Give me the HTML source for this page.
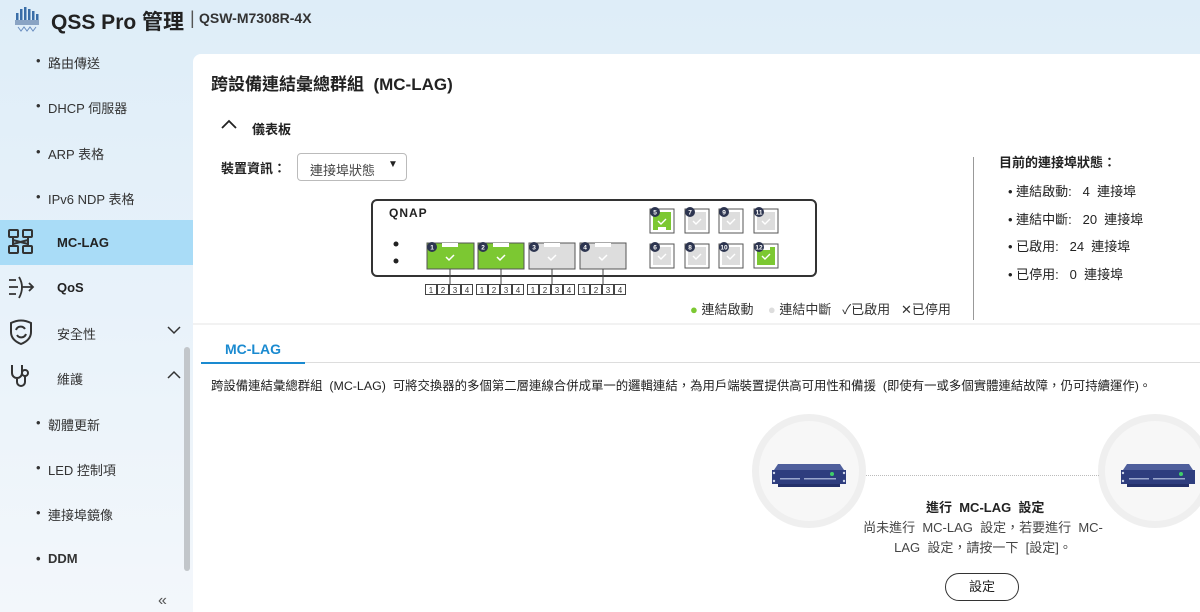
<!DOCTYPE html>
<html><head><meta charset="utf-8">
<style>
*{margin:0;padding:0;box-sizing:border-box}
html,body{width:1200px;height:612px;overflow:hidden}
body{position:relative;font-family:"Liberation Sans","Noto Sans CJK TC",sans-serif;color:#222;background:linear-gradient(#deedf8 0,#e8f2fa 300px,#f3f7fb 612px)}
.a{position:absolute;white-space:nowrap}
.nav{font-size:13px;color:#333}
.dot::before{content:"•";position:absolute;left:-12px}
.panel{position:absolute;left:193px;top:54px;width:1007px;height:558px;background:#fff;border-radius:8px 0 0 0}
.b{font-weight:bold}
</style></head><body>
<svg class="a" style="left:14px;top:6px" width="26" height="28" viewBox="0 0 26 28">
<g fill="#3a6ea8"><rect x="2" y="7" width="2.5" height="9"/><rect x="6" y="3" width="2.5" height="13"/><rect x="10" y="1" width="2.5" height="15"/><rect x="14" y="3" width="2.5" height="13"/><rect x="18" y="5" width="2.5" height="11"/><rect x="22" y="8" width="2.5" height="8"/></g>
<rect x="1" y="14" width="24" height="5" fill="#8aa4c4"/>
<path d="M4 21l3 4 3-4 3 4 3-4 3 4 3-4" stroke="#6b8fc0" fill="none" stroke-width="1"/>
</svg>
<div class="a b" style="left:51px;top:6px;font-size:21px;color:#222">QSS Pro 管理</div>
<div class="a" style="left:190px;top:8px;font-size:18px;color:#555">|</div>
<div class="a b" style="left:199px;top:10px;font-size:14px;color:#333">QSW-M7308R-4X</div>

<div class="a nav dot" style="left:48px;top:53px">路由傳送</div>
<div class="a nav dot" style="left:48px;top:98px">DHCP 伺服器</div>
<div class="a nav dot" style="left:48px;top:144px">ARP 表格</div>
<div class="a nav dot" style="left:48px;top:189px">IPv6 NDP 表格</div>
<div class="a" style="left:0;top:220px;width:193px;height:45px;background:#a9dcf7"></div>
<svg class="a" style="left:7px;top:228px" width="28" height="28" viewBox="0 0 28 28" fill="none" stroke="#333" stroke-width="2"><rect x="2" y="2" width="9" height="7" rx="1"/><rect x="16" y="2" width="9" height="7" rx="1"/><rect x="2" y="18" width="9" height="7" rx="1"/><rect x="16" y="18" width="9" height="7" rx="1"/><path d="M6 9v9M21 9v9M6 12l15 4M21 12l-15 4"/></svg>
<div class="a b" style="left:57px;top:235px;font-size:13px">MC-LAG</div>
<svg class="a" style="left:7px;top:274px" width="28" height="28" viewBox="0 0 28 28" fill="none" stroke="#333" stroke-width="1.8"><path d="M2 6h7M2 13h9M2 20h7M12 3q6 10 0 21M14 13h12M22 9l4 4-4 4"/></svg>
<div class="a b" style="left:57px;top:280px;font-size:13px">QoS</div>
<svg class="a" style="left:7px;top:318px" width="28" height="28" viewBox="0 0 28 28" fill="none" stroke="#333" stroke-width="2"><path d="M4 5q10-5 20 0v9q0 8-10 12Q4 22 4 14z"/><path d="M9 12a5 5 0 0 1 9-1M19 16a5 5 0 0 1-9 1"/></svg>
<div class="a nav" style="left:57px;top:324px">安全性</div>
<svg class="a" style="left:166px;top:324px" width="16" height="12"><path d="M2 3l6 6 6-6" stroke="#333" fill="none" stroke-width="1.5"/></svg>
<svg class="a" style="left:7px;top:362px" width="28" height="28" viewBox="0 0 28 28" fill="none" stroke="#333" stroke-width="2"><path d="M5 3v8a5 5 0 0 0 10 0V3M10 16v4a4 4 0 0 0 8 0v-6"/><circle cx="18" cy="11" r="3"/></svg>
<div class="a nav" style="left:57px;top:369px">維護</div>
<svg class="a" style="left:166px;top:369px" width="16" height="12"><path d="M2 9l6-6 6 6" stroke="#333" fill="none" stroke-width="1.5"/></svg>
<div class="a" style="left:184px;top:347px;width:6px;height:224px;background:#c2c6ca;border-radius:3px"></div>
<div class="a nav dot" style="left:48px;top:415px">韌體更新</div>
<div class="a nav dot" style="left:48px;top:460px">LED 控制項</div>
<div class="a nav dot" style="left:48px;top:505px">連接埠鏡像</div>
<div class="a nav dot b" style="left:48px;top:551px">DDM</div>
<div class="a" style="left:158px;top:592px;font-size:16px;color:#555">«</div>

<div class="panel"></div>
<div class="a b" style="left:211px;top:70px;font-size:17px">跨設備連結彙總群組&nbsp;&nbsp;(MC-LAG)</div>
<svg class="a" style="left:220px;top:118px" width="18" height="12"><path d="M2 10l7-7 7 7" stroke="#222" fill="none" stroke-width="1.8"/></svg>
<div class="a b" style="left:252px;top:119px;font-size:13px">儀表板</div>
<div class="a b" style="left:221px;top:158px;font-size:13px">裝置資訊：</div>
<div class="a" style="left:297px;top:153px;width:110px;height:28px;border:1px solid #bbb;border-radius:4px;font-size:13px;color:#444;padding:6px 0 0 12px">連接埠狀態<span style="position:absolute;left:90px;top:5px;font-size:10px;color:#222">▼</span></div>

<svg class="a" style="left:360px;top:190px" width="470" height="110" viewBox="360 190 470 110" font-family="Liberation Sans,sans-serif">
<rect x="372" y="200" width="444" height="76" rx="5" fill="#fff" stroke="#333" stroke-width="2"/>
<text x="389" y="217" font-size="12" font-weight="bold" fill="#222" letter-spacing="1">QNAP</text>
<circle cx="396" cy="244" r="2.5" fill="#222"/><circle cx="396" cy="261" r="2.5" fill="#222"/>
<g stroke="#555" stroke-width="1">
<rect x="427" y="243" width="47" height="26" fill="#7cc832"/>
<rect x="478" y="243" width="46" height="26" fill="#7cc832"/>
<rect x="529" y="243" width="46" height="26" fill="#ddd"/>
<rect x="580" y="243" width="46" height="26" fill="#ddd"/>
<path d="M450 269v15M501 269v15M552 269v15M603 269v15" stroke="#444"/>
</g>
<g fill="#fff"><rect x="442" y="243" width="16" height="4"/><rect x="493" y="243" width="16" height="4"/><rect x="544" y="243" width="16" height="4"/><rect x="595" y="243" width="16" height="4"/></g>
<g stroke="#fff" stroke-width="1.5" fill="none"><path d="M446 257l3 3 5-5M497 257l3 3 5-5M548 257l3 3 5-5M599 257l3 3 5-5"/></g>
<g stroke="#555" stroke-width="1">
<rect x="650" y="209" width="24" height="24" fill="#fff"/><rect x="685" y="209" width="24" height="24" fill="#fff"/><rect x="719" y="209" width="24" height="24" fill="#fff"/><rect x="754" y="209" width="24" height="24" fill="#fff"/>
<rect x="650" y="244" width="24" height="24" fill="#fff"/><rect x="685" y="244" width="24" height="24" fill="#fff"/><rect x="719" y="244" width="24" height="24" fill="#fff"/><rect x="754" y="244" width="24" height="24" fill="#fff"/>
</g>
<g>
<path d="M653 212h18v18h-5v-3h-8v3h-5z" fill="#7cc832"/>
<rect x="688" y="212" width="18" height="18" fill="#ddd"/><rect x="722" y="212" width="18" height="18" fill="#ddd"/><rect x="757" y="212" width="18" height="18" fill="#ddd"/>
<rect x="653" y="247" width="18" height="18" fill="#ddd"/><rect x="688" y="247" width="18" height="18" fill="#ddd"/><rect x="722" y="247" width="18" height="18" fill="#ddd"/>
<path d="M757 265v-18h5v3h8v-3h5v18z" fill="#7cc832"/>
</g>
<g stroke="#fff" stroke-width="1.4" fill="none"><path d="M658 221l3 3 5-5M693 221l3 3 5-5M727 221l3 3 5-5M762 221l3 3 5-5M658 256l3 3 5-5M693 256l3 3 5-5M727 256l3 3 5-5M762 256l3 3 5-5"/></g>
<g fill="#2d3550">
<circle cx="432" cy="247" r="5"/><circle cx="483" cy="247" r="5"/><circle cx="534" cy="247" r="5"/><circle cx="585" cy="247" r="5"/>
<circle cx="655" cy="212" r="5"/><circle cx="690" cy="212" r="5"/><circle cx="724" cy="212" r="5"/><circle cx="759" cy="212" r="5"/>
<circle cx="655" cy="247" r="5"/><circle cx="690" cy="247" r="5"/><circle cx="724" cy="247" r="5"/><circle cx="759" cy="247" r="5"/>
</g>
<g font-size="6.5" fill="#fff" font-weight="bold" text-anchor="middle">
<text x="432" y="249.5">1</text><text x="483" y="249.5">2</text><text x="534" y="249.5">3</text><text x="585" y="249.5">4</text>
<text x="655" y="214.5">5</text><text x="690" y="214.5">7</text><text x="724" y="214.5">9</text><text x="759" y="214.5">11</text>
<text x="655" y="249.5">6</text><text x="690" y="249.5">8</text><text x="724" y="249.5">10</text><text x="759" y="249.5">12</text>
</g>
<g fill="#444">
<rect x="425" y="284" width="48" height="11"/><rect x="476" y="284" width="48" height="11"/><rect x="527" y="284" width="48" height="11"/><rect x="578" y="284" width="48" height="11"/>
</g>
<g fill="#fff">
<rect x="426" y="285" width="10" height="9"/><rect x="438" y="285" width="10" height="9"/><rect x="450" y="285" width="10" height="9"/><rect x="462" y="285" width="10" height="9"/>
<rect x="477" y="285" width="10" height="9"/><rect x="489" y="285" width="10" height="9"/><rect x="501" y="285" width="10" height="9"/><rect x="513" y="285" width="10" height="9"/>
<rect x="528" y="285" width="10" height="9"/><rect x="540" y="285" width="10" height="9"/><rect x="552" y="285" width="10" height="9"/><rect x="564" y="285" width="10" height="9"/>
<rect x="579" y="285" width="10" height="9"/><rect x="591" y="285" width="10" height="9"/><rect x="603" y="285" width="10" height="9"/><rect x="615" y="285" width="10" height="9"/>
</g>
<g font-size="8" fill="#333" text-anchor="middle">
<text x="431" y="293">1</text><text x="443" y="293">2</text><text x="455" y="293">3</text><text x="467" y="293">4</text>
<text x="482" y="293">1</text><text x="494" y="293">2</text><text x="506" y="293">3</text><text x="518" y="293">4</text>
<text x="533" y="293">1</text><text x="545" y="293">2</text><text x="557" y="293">3</text><text x="569" y="293">4</text>
<text x="584" y="293">1</text><text x="596" y="293">2</text><text x="608" y="293">3</text><text x="620" y="293">4</text>
</g>
</svg>

<div class="a" style="left:690px;top:299px;font-size:13px;color:#333"><span style="color:#7cc832">●</span>&nbsp;連結啟動&nbsp;&nbsp;&nbsp;&nbsp;<span style="color:#ddd">●</span>&nbsp;連結中斷&nbsp;&nbsp;&nbsp;✓已啟用&nbsp;&nbsp;&nbsp;✕已停用</div>
<div class="a" style="left:973px;top:157px;width:1px;height:163px;background:#999"></div>
<div class="a b" style="left:999px;top:152px;font-size:13px">目前的連接埠狀態：</div>
<div class="a" style="left:1008px;top:178px;font-size:13px;line-height:27.5px;color:#222">•&nbsp;連結啟動:&nbsp;&nbsp;&nbsp;4&nbsp;&nbsp;連接埠<br>•&nbsp;連結中斷:&nbsp;&nbsp;&nbsp;20&nbsp;&nbsp;連接埠<br>•&nbsp;已啟用:&nbsp;&nbsp;&nbsp;24&nbsp;&nbsp;連接埠<br>•&nbsp;已停用:&nbsp;&nbsp;&nbsp;0&nbsp;&nbsp;連接埠</div>

<div class="a" style="left:193px;top:323px;width:1007px;height:2px;background:#f2f2f2"></div>
<div class="a" style="left:201px;top:362px;width:999px;height:1px;background:#ddd"></div>
<div class="a" style="left:201px;top:362px;width:104px;height:2px;background:#1a8ad0"></div>
<div class="a b" style="left:225px;top:341px;font-size:14px;color:#1a8ad0">MC-LAG</div>
<div class="a" style="left:211px;top:376px;font-size:12.4px;color:#222">跨設備連結彙總群組&nbsp;&nbsp;(MC-LAG)&nbsp;&nbsp;可將交換器的多個第二層連線合併成單一的邏輯連結，為用戶端裝置提供高可用性和備援&nbsp;&nbsp;(即使有一或多個實體連結故障，仍可持續運作)。</div>

<div class="a" style="left:752px;top:414px;width:114px;height:114px;border-radius:50%;background:#f7f7f7;border:7px solid #efefef"></div>
<div class="a" style="left:1098px;top:414px;width:114px;height:114px;border-radius:50%;background:#f7f7f7;border:7px solid #efefef"></div>
<div class="a" style="left:866px;top:475px;width:233px;border-top:1px dotted #bbb"></div>
<svg class="a" style="left:772px;top:462px" width="74" height="26" viewBox="0 0 74 26"><path d="M6 2h62l4 6H2z" fill="#4f5f9c"/><rect x="0" y="8" width="74" height="14" fill="#2e3d7e"/><rect x="6" y="22" width="62" height="3" fill="#24306a"/><circle cx="2" cy="11" r="1.2" fill="#cfd6ea"/><circle cx="2" cy="19" r="1.2" fill="#cfd6ea"/><circle cx="72" cy="11" r="1.2" fill="#cfd6ea"/><circle cx="72" cy="19" r="1.2" fill="#cfd6ea"/><rect x="8" y="16" width="20" height="1.5" fill="#9aa6cc"/><rect x="32" y="16" width="32" height="1.5" fill="#9aa6cc"/><circle cx="60" cy="12" r="2" fill="#3fcf6a"/></svg>
<svg class="a" style="left:1121px;top:462px" width="74" height="26" viewBox="0 0 74 26"><path d="M6 2h62l4 6H2z" fill="#4f5f9c"/><rect x="0" y="8" width="74" height="14" fill="#2e3d7e"/><rect x="6" y="22" width="62" height="3" fill="#24306a"/><circle cx="2" cy="11" r="1.2" fill="#cfd6ea"/><circle cx="2" cy="19" r="1.2" fill="#cfd6ea"/><rect x="8" y="16" width="20" height="1.5" fill="#9aa6cc"/><rect x="32" y="16" width="32" height="1.5" fill="#9aa6cc"/><circle cx="60" cy="12" r="2" fill="#3fcf6a"/></svg>
<div class="a b" style="left:926px;top:497px;font-size:13px">進行&nbsp;&nbsp;MC-LAG&nbsp;&nbsp;設定</div>
<div class="a" style="left:860px;top:518px;width:246px;font-size:13px;line-height:20px;color:#444;text-align:center;white-space:normal">尚未進行&nbsp;&nbsp;MC-LAG&nbsp;&nbsp;設定，若要進行&nbsp;&nbsp;MC-<br>LAG&nbsp;&nbsp;設定，請按一下&nbsp;&nbsp;[設定]。</div>
<div class="a" style="left:945px;top:573px;width:74px;height:28px;border:1px solid #333;border-radius:14px;font-size:13px;text-align:center;line-height:26px">設定</div>
</body></html>
